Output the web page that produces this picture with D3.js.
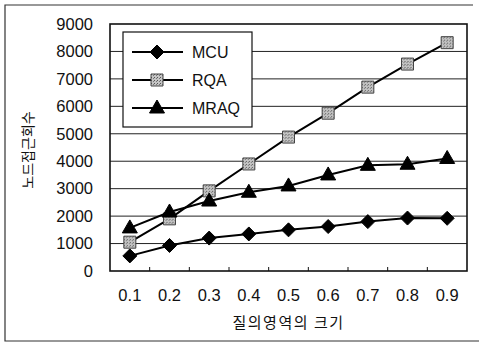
<!DOCTYPE html>
<html>
<head>
<meta charset="utf-8">
<script src="https://cdn.jsdelivr.net/npm/d3@7"></script>
<style>
  html, body { margin: 0; padding: 0; background: #fff; }
  svg { display: block; }
</style>
</head>
<body>
<svg id="chart" width="479" height="342"></svg>
<script>
// Query region size on the x axis, node access counts per method
const categories = ["0.1", "0.2", "0.3", "0.4", "0.5", "0.6", "0.7", "0.8", "0.9"];
const mcuValues  = [550, 930, 1200, 1350, 1500, 1620, 1800, 1930, 1920];
const rqaValues  = [1050, 1900, 2920, 3900, 4880, 5750, 6700, 7540, 8320];
const mraqValues = [1570, 2150, 2550, 2870, 3100, 3500, 3850, 3890, 4100];
const yTicks = [0, 1000, 2000, 3000, 4000, 5000, 6000, 7000, 8000, 9000];
const seriesNames = ["MCU", "RQA", "MRAQ"];
const xTitle = "질의영역의 크기";
const yTitle = "노드접근회수";

const svg = d3.select("#chart");
const latin = "'Liberation Sans', Arial, sans-serif";
const hangul = "'Noto Sans CJK KR', sans-serif";

const plot = { left: 110, right: 467, top: 24, bottom: 271 };

const x = d3.scaleBand().domain(categories).range([plot.left, plot.right]).padding(0);
const y = d3.scaleLinear().domain([0, 9000]).range([plot.bottom, plot.top]);

// dotted grey fill for the square markers
const defs = svg.append("defs");
const pat = defs.append("pattern").attr("id", "dots")
  .attr("width", 3).attr("height", 3).attr("patternUnits", "userSpaceOnUse");
pat.append("rect").attr("width", 3).attr("height", 3).attr("fill", "#c4c4c4");
pat.append("rect").attr("width", 1).attr("height", 1).attr("fill", "#555");
pat.append("rect").attr("x", 2).attr("y", 1).attr("width", 1).attr("height", 1).attr("fill", "#777");

// outer frame (top, left, bottom)
svg.append("path")
  .attr("d", "M473,5 H5 V341 H479")
  .attr("fill", "none").attr("stroke", "#333").attr("stroke-width", 1.2);

// horizontal gridlines
svg.append("g").selectAll("line")
  .data(yTicks.filter(t => t > 0 && t < 9000))
  .join("line")
  .attr("x1", plot.left).attr("x2", plot.right)
  .attr("y1", d => y(d)).attr("y2", d => y(d))
  .attr("stroke", "#222").attr("stroke-width", 1);

// plot border
svg.append("rect")
  .attr("x", plot.left).attr("y", plot.top)
  .attr("width", plot.right - plot.left).attr("height", plot.bottom - plot.top)
  .attr("fill", "none").attr("stroke", "#111").attr("stroke-width", 1.6);

// y axis labels
const yAxis = d3.axisLeft(y).tickValues(yTicks).tickSize(0).tickPadding(17).tickFormat(d3.format("d"));
const gy = svg.append("g").attr("transform", `translate(${plot.left},0)`).call(yAxis);
gy.select(".domain").remove();
gy.selectAll("text").attr("font-family", latin).attr("font-size", 16.5).attr("fill", "#111");

// x axis: labels under the categories, ticks at category boundaries pointing inward
const xAxis = d3.axisBottom(x).tickSize(0).tickPadding(18);
const gx = svg.append("g").attr("transform", `translate(0,${plot.bottom})`).call(xAxis);
gx.select(".domain").remove();
gx.selectAll("text").attr("font-family", latin).attr("font-size", 16.5).attr("fill", "#111");
svg.append("g").selectAll("line")
  .data(categories.slice(1))
  .join("line")
  .attr("x1", d => x(d)).attr("x2", d => x(d))
  .attr("y1", plot.bottom).attr("y2", plot.bottom - 4)
  .attr("stroke", "#111").attr("stroke-width", 1);

// axis titles
svg.append("text")
  .attr("x", (plot.left + plot.right) / 2).attr("y", 328)
  .attr("text-anchor", "middle")
  .attr("font-family", hangul).attr("font-size", 15).attr("letter-spacing", 1.5)
  .attr("fill", "#111")
  .text(xTitle);
svg.append("text")
  .attr("transform", "translate(33,150) rotate(-90)")
  .attr("text-anchor", "middle")
  .attr("font-family", hangul).attr("font-size", 14).attr("fill", "#111")
  .text(yTitle);

// marker shapes
const markers = {
  MCU:  { d: "M0,-7 L7,0 L0,7 L-7,0 Z", fill: "#000", stroke: "#000" },
  RQA:  { d: "M-6,-6 H6 V6 H-6 Z", fill: "url(#dots)", stroke: "#444" },
  MRAQ: { d: "M0,-8 L7.5,5 L-7.5,5 Z", fill: "#000", stroke: "#000" }
};

const seriesValues = [mcuValues, rqaValues, mraqValues];
const line = d3.line()
  .x((d, i) => x(categories[i]) + x.bandwidth() / 2)
  .y(d => y(d));

seriesValues.forEach((vals, si) => {
  const name = seriesNames[si];
  const g = svg.append("g");
  g.append("path").datum(vals)
    .attr("d", line)
    .attr("fill", "none").attr("stroke", "#000").attr("stroke-width", 2);
  g.selectAll("path.m").data(vals).join("path")
    .attr("class", "m")
    .attr("transform", (d, i) => `translate(${x(categories[i]) + x.bandwidth() / 2},${y(d)})`)
    .attr("d", markers[name].d)
    .attr("fill", markers[name].fill)
    .attr("stroke", markers[name].stroke).attr("stroke-width", 1);
});

// legend
const legend = svg.append("g");
legend.append("rect")
  .attr("x", 123).attr("y", 32).attr("width", 129).attr("height", 95)
  .attr("fill", "#fff").attr("stroke", "#111").attr("stroke-width", 1.2);
seriesNames.forEach((name, i) => {
  const ly = 52 + i * 28;
  legend.append("line")
    .attr("x1", 132).attr("x2", 183).attr("y1", ly).attr("y2", ly)
    .attr("stroke", "#000").attr("stroke-width", 2);
  legend.append("path")
    .attr("transform", `translate(157,${ly})`)
    .attr("d", markers[name].d)
    .attr("fill", markers[name].fill)
    .attr("stroke", markers[name].stroke).attr("stroke-width", 1);
  legend.append("text")
    .attr("x", 192).attr("y", ly).attr("dy", "0.36em")
    .attr("font-family", latin).attr("font-size", 16).attr("fill", "#111")
    .text(name);
});
</script>
</body>
</html>
